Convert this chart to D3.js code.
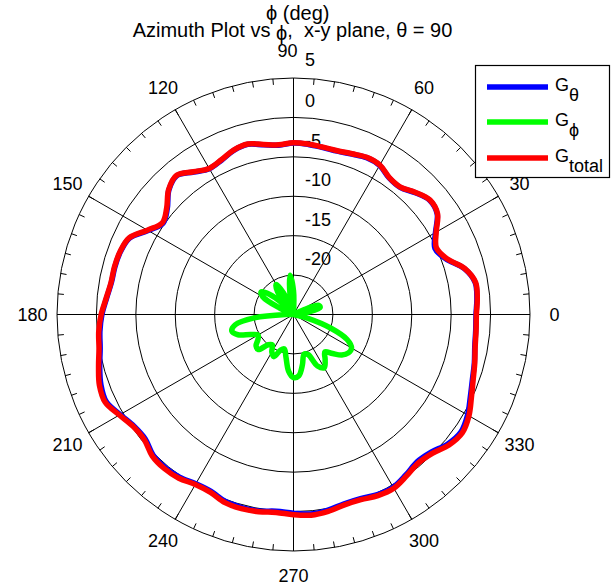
<!DOCTYPE html>
<html>
<head>
<meta charset="utf-8">
<script src="https://cdn.jsdelivr.net/npm/d3@7"></script>
<style>
  html, body { margin: 0; padding: 0; background: #fff; }
  text { font-family: "Liberation Sans", Arial, sans-serif; white-space: pre; }
</style>
</head>
<body>
<svg id="chart" width="613" height="584"></svg>
<script>
// ---- data ----
const angles = [0,5,10,15,20,25,30,35,40,45,50,55,60,65,70,75,80,85,90,95,100,105,110,115,120,125,130,135,140,145,150,155,160,165,170,175,180,185,190,195,200,205,210,215,220,225,230,235,240,245,250,255,260,265,270,275,280,285,290,295,300,305,310,315,320,325,330,335,340,345,350,355];
const gTotal = [-1.8,-1.6,-1.55,-2.5,-4.3,-5.0,-4.1,-2.7,-2.4,-3.1,-3.9,-3.8,-3.1,-3.0,-3.3,-3.5,-3.45,-3.3,-3.2,-3.4,-3.1,-2.6,-2.8,-3.35,-3.6,-2.9,-1.95,-2.6,-4.0,-4.7,-3.6,-2.0,-1.6,-1.5,-1.5,-1.15,-0.6,-0.2,0.05,0.6,1.2,1.35,0.5,-0.2,-0.3,0.35,0.5,0.35,-0.1,-0.1,0.4,0.5,0.4,0.2,0.4,0.55,0.35,0.0,0.0,0.35,0.45,0.0,-0.4,-0.1,0.75,1.15,0.7,-0.1,-0.75,-1.2,-1.6,-1.75];
const gTheta = [-1.85,-1.65,-1.6,-2.55,-4.4,-5.2,-4.2,-2.75,-2.45,-3.15,-3.95,-3.85,-3.15,-3.05,-3.35,-3.55,-3.5,-3.35,-3.25,-3.45,-3.15,-2.65,-2.85,-3.4,-3.65,-2.95,-2.0,-2.65,-4.1,-4.8,-3.7,-2.05,-1.65,-1.55,-1.55,-1.2,-0.7,-0.35,-0.1,0.45,1.0,1.2,0.4,-0.3,-0.45,0.2,0.35,0.2,-0.2,-0.25,0.25,0.35,0.3,0.05,0.2,0.4,0.2,-0.15,-0.15,0.2,0.3,-0.15,-0.6,-0.3,0.55,0.95,0.5,-0.25,-0.85,-1.25,-1.65,-1.8];
const gPhi = [-28,-25.5,-23,-21.5,-21.6,-23.5,-27,-30,-30,-30,-30,-30,-30,-30,-30,-30,-30,-26,-22,-20,-22.5,-27,-25,-22,-20.6,-21.5,-25,-23,-21,-20,-20.5,-23,-27,-30,-30,-28,-24,-20,-17.5,-16.9,-17.5,-19,-19.8,-19.5,-18.8,-18.7,-20,-20.3,-19.5,-19.1,-20.2,-20.5,-19.5,-17.8,-17,-17.2,-18.5,-19.8,-19.6,-17.8,-17.2,-18,-18.8,-18,-17,-16.5,-16.5,-17.5,-20,-23,-26,-28];
const radialTicks = [-20,-15,-10,-5,0,5];
const angleTicks = [0,30,60,90,120,150,180,210,240,270,300,330];
const seriesNames = ["θ","ϕ","total"];
const seriesColors = ["#0000ff","#00ff00","#ff0000"];

// ---- layout ----
const svg = d3.select("#chart");
const cx = 293.5, cy = 314.5, R = 236.5;
const rScale = d3.scaleLinear().domain([-25, 5]).range([0, R]).clamp(true);
const aScale = d3.scaleLinear().domain([0, 360]).range([0, 2 * Math.PI]);
const g = svg.append("g").attr("transform", `translate(${cx},${cy})`);
const px = (a, r) => r * Math.cos(aScale(a));
const py = (a, r) => -r * Math.sin(aScale(a));

// rings
g.selectAll("circle.ring").data(radialTicks).enter().append("circle")
  .attr("r", d => rScale(d)).attr("fill", "none").attr("stroke", "#000").attr("stroke-width", 1);

// spokes
g.selectAll("line.spoke").data(angleTicks).enter().append("line")
  .attr("x1", 0).attr("y1", 0)
  .attr("x2", d => px(d, R)).attr("y2", d => py(d, R))
  .attr("stroke", "#000").attr("stroke-width", 1);

// minor ticks every 5 deg
const minor = d3.range(0, 360, 5);
g.selectAll("line.tick").data(minor).enter().append("line")
  .attr("x1", d => px(d, R)).attr("y1", d => py(d, R))
  .attr("x2", d => px(d, R - 6)).attr("y2", d => py(d, R - 6))
  .attr("stroke", "#000").attr("stroke-width", 1);

// angle labels
g.selectAll("text.alab").data(angleTicks).enter().append("text")
  .attr("x", d => px(d, 261) + (d === 90 ? -6 : 0)).attr("y", d => py(d, 261) + (d === 90 ? -3 : 0))
  .attr("text-anchor", "middle").attr("dominant-baseline", "central")
  .attr("font-size", 18).text(d => d);

// radial labels
g.selectAll("text.rlab").data(radialTicks).enter().append("text")
  .attr("x", 11.5).attr("y", d => -rScale(d) - (d === 5 ? 12 : 10))
  .attr("font-size", 18).text(d => d);

// curves
const line = d3.lineRadial()
  .angle(d => Math.PI / 2 - aScale(d[0]))
  .radius(d => rScale(d[1]))
  .curve(d3.curveCatmullRomClosed.alpha(0.5));
const series = [gTheta, gPhi, gTotal];
series.forEach((vals, i) => {
  g.append("path")
    .datum(angles.map((a, j) => [a, vals[j]]))
    .attr("d", line)
    .attr("fill", "none")
    .attr("stroke", seriesColors[i])
    .attr("stroke-width", 5.5)
    .attr("stroke-linejoin", "round");
});

// title
const title = svg.append("text").attr("x", 292.5).attr("y", 37)
  .attr("text-anchor", "middle").attr("font-size", 20);
title.append("tspan").text("Azimuth Plot vs ");
title.append("tspan").attr("dy", 3).text("ϕ");
title.append("tspan").attr("dy", -3).text(",  x-y plane, ");
title.append("tspan").text("θ");
title.append("tspan").text(" = 90");

svg.append("text").attr("x", 266).attr("y", 20).attr("font-size", 20)
  .text("ϕ (deg)");

// legend
const lg = svg.append("g");
lg.append("rect").attr("x", 475.5).attr("y", 65.5).attr("width", 134).attr("height", 112)
  .attr("fill", "#fff").attr("stroke", "#000").attr("stroke-width", 1.2);
const ly = [87, 122, 158];
seriesNames.forEach((n, i) => {
  lg.append("line").attr("x1", 487).attr("x2", 548).attr("y1", ly[i]).attr("y2", ly[i])
    .attr("stroke", seriesColors[i]).attr("stroke-width", 5.5);
  const t = lg.append("text").attr("x", 555).attr("y", ly[i] + 4).attr("font-size", 18);
  t.append("tspan").text("G");
  t.append("tspan").attr("dy", 10).attr("font-size", 18).text(n);
});
</script>
</body>
</html>
